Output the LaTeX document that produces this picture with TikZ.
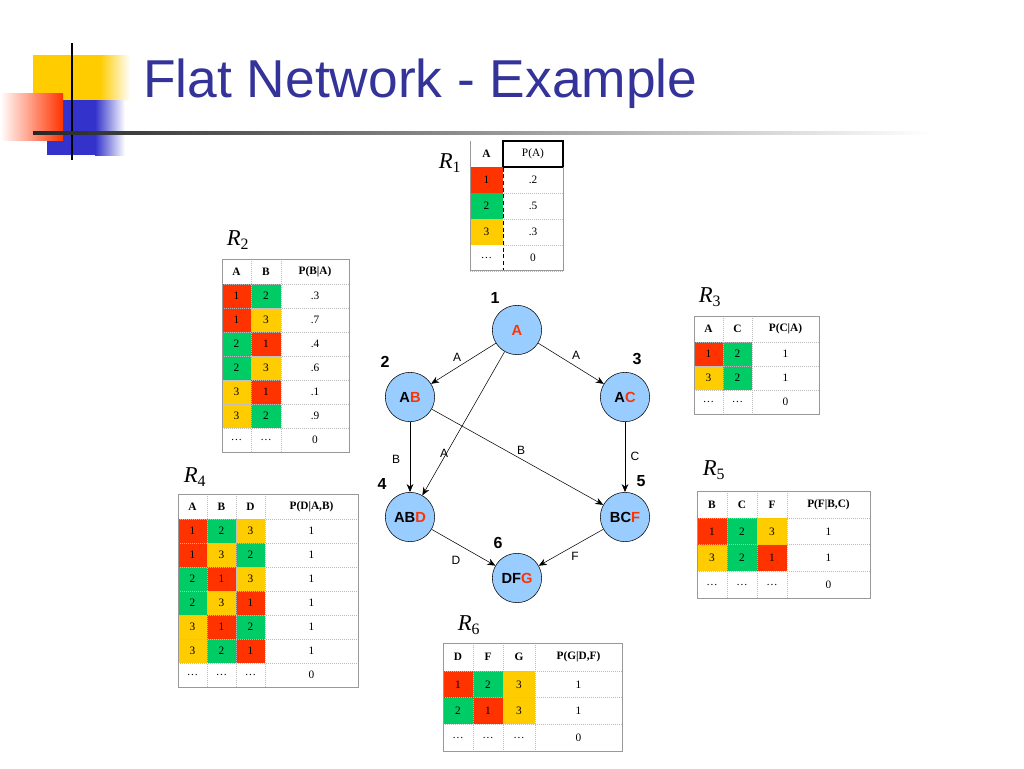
\documentclass[tikz,border=0pt]{standalone}
\usepackage{fontspec}
\setmainfont{Liberation Serif}
\newfontfamily\sans{Liberation Sans}
\usetikzlibrary{arrows.meta}
\definecolor{cr}{HTML}{FF3300}
\definecolor{cg}{HTML}{00CC66}
\definecolor{cy}{HTML}{FFCC00}
\definecolor{cw}{HTML}{FFFFFF}
\definecolor{titleblue}{HTML}{333399}
\definecolor{logoblue}{HTML}{3333CC}
\definecolor{nodeblue}{HTML}{99CCFF}
\definecolor{grid}{HTML}{BBBBBB}
\tikzset{
  tab/.style={font=\fontsize{8.5}{10}\selectfont, inner sep=0pt},
  tabh/.style={tab, font=\fontsize{8.5}{10}\selectfont\bfseries},
  rlab/.style={font=\fontsize{17}{18}\selectfont\itshape, inner sep=0pt},
  net/.style={circle, draw=black, fill=nodeblue, minimum size=37pt, inner sep=0pt, font=\sans\bfseries\fontsize{11}{12}\selectfont},
  num/.style={font=\sans\bfseries\fontsize{12}{13}\selectfont, inner sep=0pt},
  elab/.style={font=\sans\fontsize{9}{10}\selectfont, inner sep=0pt},
  edge/.style={-{Stealth[length=6pt,width=5pt]}, black},
  hline/.style={grid, densely dotted, line width=0.5pt},
  frame/.style={draw=gray!80, line width=0.6pt}
}
\newcommand{\cellbox}[6]{%
  \fill[#5] (#1,#2) rectangle (#3,#4);
  \node[tab] at ({(#1+#3)/2},{(#2+#4)/2}) {#6};}
\begin{document}
\begin{tikzpicture}[x=0.75pt,y=-0.75pt]
\useasboundingbox (0,0) rectangle (1024,768);

% Logo
\fill[cy] (33,55) rectangle (100,100);
\shade[left color=cy, right color=white] (100,55) rectangle (130,100);
\fill[logoblue] (47,100) rectangle (95,155);
\shade[left color=logoblue, right color=white] (95,100) rectangle (125,155);
\shade[left color=white, right color=cr] (0,93) rectangle (63,140);
\draw[black, line width=2pt] (72,43) -- (72,160);
\shade[left color=black!85, right color=white] (33,131.5) rectangle (930,134.5);

% Title
\node[anchor=base west, inner sep=0pt, text=titleblue, font=\sans\fontsize{40}{44}\selectfont] (title) at (143,97) {Flat Network - Example};

% R1
\node[rlab] (r1) at (450,163) {R\textsubscript{\upshape 1}};
\node[tabh] at (486.5,154) {A};
\node[tab] at (533,154) {P(A)};
\draw[black, line width=0.8pt] (503,141) rectangle (563,167);
\foreach \ca/\a/\p [count=\i from 0] in {cr/1/.2, cg/2/.5, cy/3/.3, cw/\dots/0}{
  \pgfmathsetmacro\yt{167+26*\i}
  \pgfmathsetmacro\yb{193+26*\i}
  \cellbox{470}{\yt}{503}{\yb}{\ca}{\a}
  \node[tab] at (533,{(\yt+\yb)/2}) {\p};
  \draw[hline] (470,\yb) -- (563,\yb);
}
\draw[black, densely dashed] (503,141) -- (503,270);
\draw[frame] (470,141) -- (470,270) -- (563,270) -- (563,167);

% R2
\node[rlab] (r2) at (238,240) {R\textsubscript{\upshape 2}};
\foreach \h/\x in {A/236.5, B/266, P(B|A)/315}{\node[tabh] at (\x,271.5) {\h};}
\foreach \ca/\a/\cb/\b/\p [count=\i from 0] in {cr/1/cg/2/.3, cr/1/cy/3/.7, cg/2/cr/1/.4, cg/2/cy/3/.6, cy/3/cr/1/.1, cy/3/cg/2/.9, cw/\dots/cw/\dots/0}{
  \pgfmathsetmacro\yt{284+24*\i}
  \pgfmathsetmacro\yb{308+24*\i}
  \cellbox{222}{\yt}{251}{\yb}{\ca}{\a}
  \cellbox{251}{\yt}{281}{\yb}{\cb}{\b}
  \node[tab] at (315,{(\yt+\yb)/2}) {\p};
  \draw[hline] (222,\yt) -- (349,\yt);
}
\foreach \x in {251,281}{\draw[hline] (\x,259) -- (\x,452);}
\draw[frame] (222,259) rectangle (349,452);

% R3
\node[rlab] (r3) at (710,297) {R\textsubscript{\upshape 3}};
\foreach \h/\x in {A/708.5, C/737.5, P(C|A)/785.5}{\node[tabh] at (\x,329) {\h};}
\foreach \ca/\a/\cb/\b/\p [count=\i from 0] in {cr/1/cg/2/1, cy/3/cg/2/1, cw/\dots/cw/\dots/0}{
  \pgfmathsetmacro\yt{342+24*\i}
  \pgfmathsetmacro\yb{366+24*\i}
  \cellbox{694}{\yt}{723}{\yb}{\ca}{\a}
  \cellbox{723}{\yt}{752}{\yb}{\cb}{\b}
  \node[tab] at (785.5,{(\yt+\yb)/2}) {\p};
  \draw[hline] (694,\yt) -- (819,\yt);
}
\foreach \x in {723,752}{\draw[hline] (\x,316) -- (\x,414);}
\draw[frame] (694,316) rectangle (819,414);

% R4
\node[rlab] (r4) at (195,477) {R\textsubscript{\upshape 4}};
\foreach \h/\x in {A/192.5, B/221.5, D/250.5, P(D|A{,}B)/311.5}{\node[tabh] at (\x,506.5) {\h};}
\foreach \ca/\a/\cb/\b/\cc/\c/\p [count=\i from 0] in {cr/1/cg/2/cy/3/1, cr/1/cy/3/cg/2/1, cg/2/cr/1/cy/3/1, cg/2/cy/3/cr/1/1, cy/3/cr/1/cg/2/1, cy/3/cg/2/cr/1/1, cw/\dots/cw/\dots/cw/\dots/0}{
  \pgfmathsetmacro\yt{519+24*\i}
  \pgfmathsetmacro\yb{543+24*\i}
  \cellbox{178}{\yt}{207}{\yb}{\ca}{\a}
  \cellbox{207}{\yt}{236}{\yb}{\cb}{\b}
  \cellbox{236}{\yt}{265}{\yb}{\cc}{\c}
  \node[tab] at (311.5,{(\yt+\yb)/2}) {\p};
  \draw[hline] (178,\yt) -- (358,\yt);
}
\foreach \x in {207,236,265}{\draw[hline] (\x,494) -- (\x,687);}
\draw[frame] (178,494) rectangle (358,687);

% R5
\node[rlab] (r5) at (714,470) {R\textsubscript{\upshape 5}};
\foreach \h/\x in {B/712, C/742, F/772, P(F|B{,}C)/828.5}{\node[tabh] at (\x,504.5) {\h};}
\foreach \ca/\a/\cb/\b/\cc/\c/\p [count=\i from 0] in {cr/1/cg/2/cy/3/1, cy/3/cg/2/cr/1/1, cw/\dots/cw/\dots/cw/\dots/0}{
  \pgfmathsetmacro\yt{518+26.7*\i}
  \pgfmathsetmacro\yb{544.7+26.7*\i}
  \cellbox{697}{\yt}{727}{\yb}{\ca}{\a}
  \cellbox{727}{\yt}{757}{\yb}{\cb}{\b}
  \cellbox{757}{\yt}{787}{\yb}{\cc}{\c}
  \node[tab] at (828.5,{(\yt+\yb)/2}) {\p};
  \draw[hline] (697,\yt) -- (870,\yt);
}
\foreach \x in {727,757,787}{\draw[hline] (\x,491) -- (\x,598);}
\draw[frame] (697,491) rectangle (870,598);

% R6
\node[rlab] (r6) at (469,625) {R\textsubscript{\upshape 6}};
\foreach \h/\x in {D/458, F/488, G/519, P(G|D{,}F)/578.5}{\node[tabh] at (\x,657) {\h};}
\foreach \ca/\a/\cb/\b/\cc/\c/\p [count=\i from 0] in {cr/1/cg/2/cy/3/1, cg/2/cr/1/cy/3/1, cw/\dots/cw/\dots/cw/\dots/0}{
  \pgfmathsetmacro\yt{671+26.7*\i}
  \pgfmathsetmacro\yb{697.7+26.7*\i}
  \cellbox{443}{\yt}{473}{\yb}{\ca}{\a}
  \cellbox{473}{\yt}{503}{\yb}{\cb}{\b}
  \cellbox{503}{\yt}{535}{\yb}{\cc}{\c}
  \node[tab] at (578.5,{(\yt+\yb)/2}) {\p};
  \draw[hline] (443,\yt) -- (622,\yt);
}
\foreach \x in {473,503,535}{\draw[hline] (\x,643) -- (\x,751);}
\draw[frame] (443,643) rectangle (622,751);

% Network
\node[net] (a) at (517,330) {\textcolor{cr}{A}};
\node[net] (ab) at (410,397) {A\textcolor{cr}{B}};
\node[net] (ac) at (625,397) {A\textcolor{cr}{C}};
\node[net] (abd) at (410,517) {AB\textcolor{cr}{D}};
\node[net] (bcf) at (625,517) {BC\textcolor{cr}{F}};
\node[net] (dfg) at (517,578) {DF\textcolor{cr}{G}};

\node[num] at (495,298) {1};
\node[num] at (385,362) {2};
\node[num] at (637,359) {3};
\node[num] at (382,484) {4};
\node[num] at (641,481) {5};
\node[num] at (498,543) {6};

\draw[edge] (a) -- (ab);
\draw[edge] (a) -- (ac);
\draw[edge] (a) -- (abd);
\draw[edge] (ab) -- (abd);
\draw[edge] (ab) -- (bcf);
\draw[edge] (ac) -- (bcf);
\draw[edge] (abd) -- (dfg);
\draw[edge] (bcf) -- (dfg);

\node[elab] at (457,357) {A};
\node[elab] at (576,355) {A};
\node[elab] at (396,459) {B};
\node[elab] at (444,453) {A};
\node[elab] at (521,450) {B};
\node[elab] at (635,456) {C};
\node[elab] at (456,560) {D};
\node[elab] at (575,556) {F};
\end{tikzpicture}
\end{document}
